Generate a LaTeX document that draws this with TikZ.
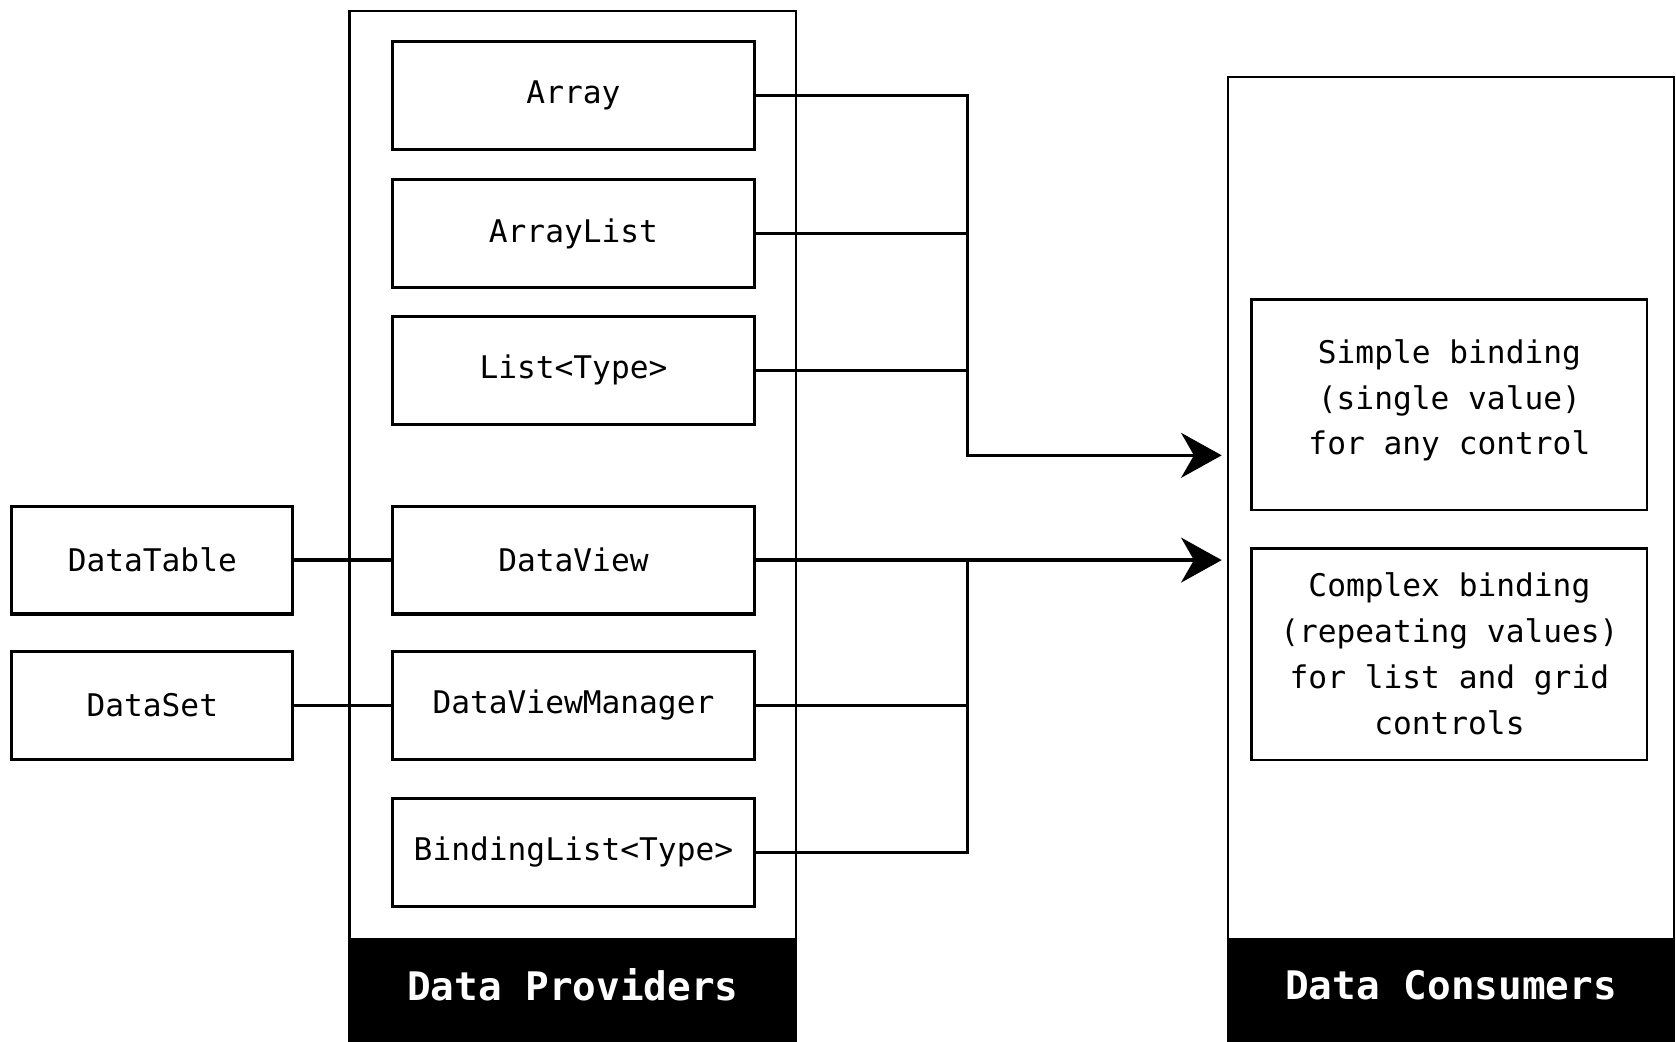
\documentclass[tikz,border=0pt]{standalone}
\usepackage{fontspec}
\setmonofont{DejaVu Sans Mono}
\usetikzlibrary{arrows.meta}
\begin{document}
\begin{tikzpicture}[x=0.5pt,y=-0.5pt,
  inbox/.style={draw,line width=1.5pt,minimum width=169.5pt,minimum height=50.5pt,inner sep=0pt,font=\ttfamily\fontsize{14.6}{21.5}\selectfont,align=center},
  sidebox/.style={inbox,minimum width=131.5pt},
  consbox/.style={draw,line width=1.2pt,minimum width=185pt,inner sep=0pt,font=\ttfamily\fontsize{14.6}{21.5}\selectfont,align=center},
  outer/.style={draw,line width=1pt,inner sep=0pt},
  band/.style={fill=black,text=white,inner sep=0pt,text depth=5pt,font=\ttfamily\bfseries\fontsize{18.4}{22}\selectfont},
  conn/.style={line width=1.6pt},
  arr/.style={conn,-{Stealth[length=19pt,width=21pt,inset=6pt]}}]
\useasboundingbox (0,0) rectangle (1568,974);
% outer containers
\node[outer,minimum width=209pt,minimum height=482pt] (prov) at (536,492) {};
\node[band,minimum width=209pt,minimum height=48pt] (provband) at (536,926) {Data Providers};
\node[outer,minimum width=208.5pt,minimum height=451pt] (cons) at (1357.5,523) {};
\node[band,minimum width=208.5pt,minimum height=48pt] (consband) at (1357.5,926) {Data Consumers};
% provider boxes
\node[inbox] (array) at (536.5,89.5) {Array};
\node[inbox] (arraylist) at (536.5,218.5) {ArrayList};
\node[inbox] (list) at (536.5,346.5) {List<Type>};
\node[inbox] (dataview) at (536.5,524) {DataView};
\node[inbox] (dvm) at (536.5,660) {DataViewManager};
\node[inbox] (blist) at (536.5,797.5) {BindingList<Type>};
\node[sidebox] (dtable) at (142.5,524) {DataTable};
\node[sidebox] (dset) at (142.5,660) {DataSet};
% consumer boxes
\node[consbox,minimum height=98.5pt,text depth=7pt] (simple) at (1356,378.5) {Simple binding\\(single value)\\for any control};
\node[consbox,minimum height=99pt] (complex) at (1356,612) {Complex binding\\(repeating values)\\for list and grid\\controls};
% connectors
\coordinate (b1) at (905,426);
\coordinate (t1) at (1143,426);
\coordinate (t2) at (1143,524);
\draw[arr] (array.east) -| (b1) -- (t1);
\draw[conn] (arraylist.east) -- (arraylist.east -| b1);
\draw[conn] (list.east) -- (list.east -| b1);
\draw[arr] (dataview.east) -- (t2);
\draw[conn] (blist.east) -| (dataview.east -| b1);
\draw[conn] (dvm.east) -- (dvm.east -| b1);
\draw[conn] (dtable.east) -- (dataview.west);
\draw[conn] (dset.east) -- (dvm.west);
\end{tikzpicture}
\end{document}
